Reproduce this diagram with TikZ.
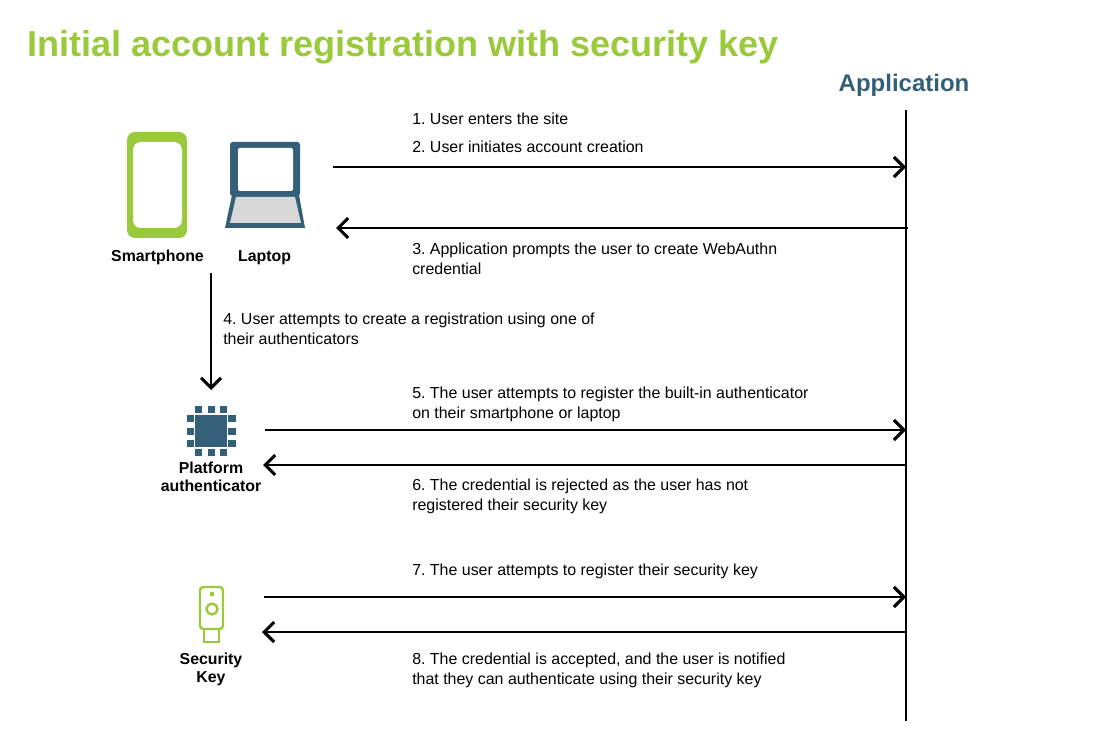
\documentclass[tikz,border=0pt]{standalone}
\usepackage{fontspec}
\usepackage{tikz}
\usetikzlibrary{arrows.meta}
\setmainfont{Liberation Sans}
\definecolor{keygreen}{HTML}{9ACA3C}
\definecolor{appblue}{HTML}{336078}
\definecolor{screengray}{HTML}{D9D9D9}
\tikzset{
    >={Straight Barb[length=7.5pt,width=15pt,line width=2.3pt]},
    flow/.style={line width=2.2pt},
    step label/.style={anchor=base west, align=left, inner sep=0pt, font=\fontsize{11.96}{15}\selectfont\frenchspacing},
    device/.style={anchor=base, align=center, inner sep=0pt, font=\fontsize{11.9}{12.8}\selectfont\bfseries},
    pin/.style={fill=appblue, draw=none, minimum size=5.4pt, inner sep=0pt},
}
\begin{document}
\begin{tikzpicture}[x=0.75pt, y=-0.75pt]
    \useasboundingbox (0, 0) rectangle (1095, 741);
    \node[anchor=base west, inner sep=0pt, text=keygreen, font=\fontsize{27.05}{30}\selectfont\bfseries] (title) at (27, 57) {Initial account registration with security key};
    \node[anchor=base, inner sep=0pt, text=appblue, font=\fontsize{18}{20}\selectfont\bfseries] (app) at (904, 92) {Application};

    % lifeline
    \coordinate (lifetop) at (906, 110);
    \coordinate (lifebot) at (906, 721);
    \draw[flow] (lifetop) -- (lifebot);

    % smartphone
    \fill[keygreen, rounded corners=6pt] (127, 132) rectangle (187, 238);
    \fill[white, rounded corners=6pt] (133, 142) rectangle (182, 228);
    \node[device] (phone) at (157.5, 261.5) {Smartphone};

    % laptop
    \fill[appblue] (232, 195) -- (299, 195) -- (305, 228) -- (225, 228) -- cycle;
    \fill[screengray] (236, 197) -- (295, 197) -- (301, 223) -- (230, 223) -- cycle;
    \fill[appblue, rounded corners=2pt] (230, 142) rectangle (300, 196);
    \fill[white, rounded corners=1.5pt] (238, 148) rectangle (293, 191);
    \node[device] (laptop) at (264.5, 261.5) {Laptop};

    % platform authenticator
    \node[fill=appblue, minimum size=24pt, inner sep=0pt] (chip) at (211, 431) {};
    \foreach \d in {-12.5, 0.5, 12.5} {
        \node[pin] at (211 + \d, 409.5) {};
        \node[pin] at (211 + \d, 452.5) {};
        \node[pin] at (190.5, 431 + \d) {};
        \node[pin] at (232, 431 + \d) {};
    }
    \node[device] (platform) at (211, 491) {Platform\\authenticator};

    % security key
    \draw[keygreen, line width=1.8pt, rounded corners=2.5pt] (200, 587) rectangle (223, 629);
    \draw[keygreen, line width=1.8pt] (204, 629) -- (204, 642) -- (219, 642) -- (219, 629);
    \draw[keygreen, line width=1.8pt] (212, 609) circle (5.5);
    \fill[keygreen] (212, 594) circle (2.4);
    \node[device] (seckey) at (211, 682) {Security\\Key};

    % free ends of the messages
    \coordinate (a1) at (333, 167);   \coordinate (b1) at (906, 167);
    \coordinate (a2) at (908, 228);   \coordinate (b2) at (336, 228);
    \coordinate (a3) at (211, 273);   \coordinate (b3) at (211, 390);
    \coordinate (a4) at (265, 430);   \coordinate (b4) at (906, 430);
    \coordinate (a5) at (906, 465);   \coordinate (b5) at (263, 465);
    \coordinate (a6) at (264, 597);   \coordinate (b6) at (906, 597);
    \coordinate (a7) at (906, 632);   \coordinate (b7) at (262, 632);
    \foreach \from/\to in {a1/b1, a2/b2, a3/b3, a4/b4, a5/b5, a6/b6, a7/b7} {
        \draw[->, flow] (\from) -- (\to);
    }

    % step texts
    \node[step label] (s1) at (412, 124.5) {1. User enters the site};
    \node[step label] (s2) at (412, 152.5) {2. User initiates account creation};
    \node[step label] (s3) at (412, 274.5) {3. Application prompts the user to create WebAuthn\\credential};
    \node[step label] (s4) at (223, 344.5) {4. User attempts to create a registration using one of\\their authenticators};
    \node[step label] (s5) at (412, 418.5) {5. The user attempts to register the built-in authenticator\\on their smartphone or laptop};
    \node[step label] (s6) at (412, 510.5) {6. The credential is rejected as the user has not\\registered their security key};
    \node[step label] (s7) at (412, 575.5) {7. The user attempts to register their security key};
    \node[step label] (s8) at (412, 684.5) {8. The credential is accepted, and the user is notified\\that they can authenticate using their security key};
\end{tikzpicture}
\end{document}
